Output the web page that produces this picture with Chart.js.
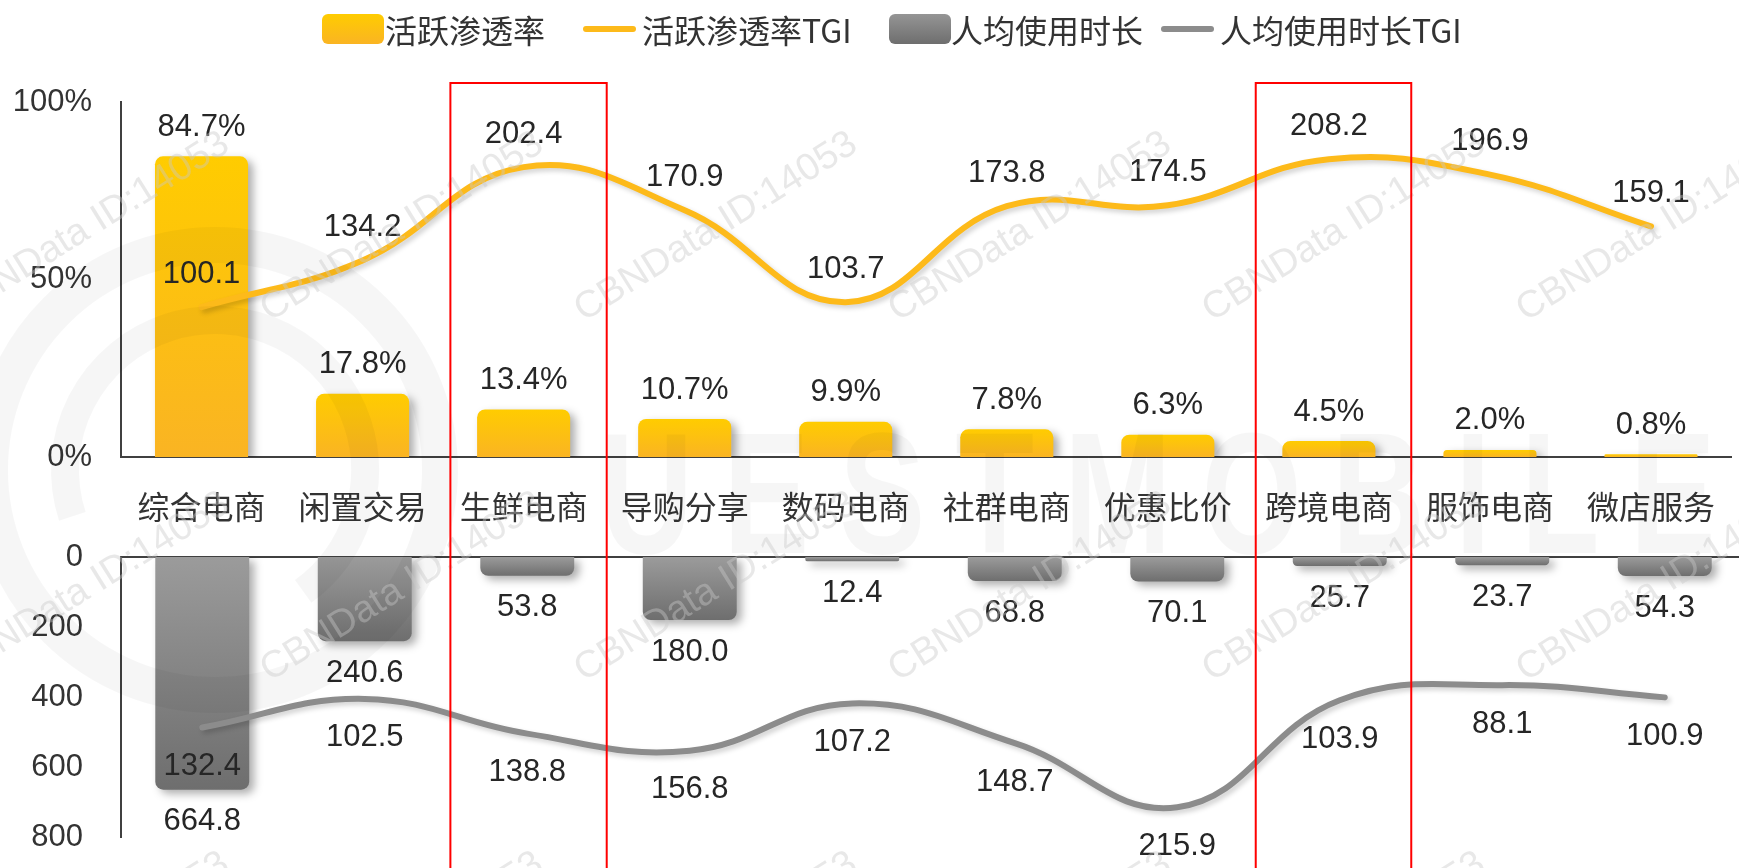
<!DOCTYPE html>
<html>
<head>
<meta charset="utf-8">
<script src="https://cdn.jsdelivr.net/npm/chart.js@4.4.1/dist/chart.umd.min.js"></script>
<style>
html,body{margin:0;padding:0;background:#fff;width:1739px;height:868px;overflow:hidden;}
#wrap{position:relative;width:1739px;height:868px;overflow:hidden;}
canvas{position:absolute;left:0;top:0;}
#legend{position:absolute;left:0;top:0;width:1739px;height:58px;font-family:"Noto Sans CJK SC",sans-serif;font-size:32px;color:#333;}
.item{position:absolute;top:0;height:58px;display:flex;align-items:center;white-space:nowrap;}
.sw-box{width:62px;height:30px;border-radius:6px;}
.sw-line{width:53px;height:6px;border-radius:3px;}
</style>
</head>
<body>
<div id="wrap">
  <canvas id="topChart" width="1746" height="868"></canvas>
  <canvas id="bottomChart" width="1746" height="900"></canvas>
  <div id="legend"></div>
</div>
<script>
const categories = ['综合电商','闲置交易','生鲜电商','导购分享','数码电商','社群电商','优惠比价','跨境电商','服饰电商','微店服务'];
const activeRate = [84.7, 17.8, 13.4, 10.7, 9.9, 7.8, 6.3, 4.5, 2.0, 0.8];
const activeRateTGI = [100.1, 134.2, 202.4, 170.9, 103.7, 173.8, 174.5, 208.2, 196.9, 159.1];
const usageTime = [664.8, 240.6, 53.8, 180.0, 12.4, 68.8, 70.1, 25.7, 23.7, 54.3];
const usageTimeTGI = [132.4, 102.5, 138.8, 156.8, 107.2, 148.7, 215.9, 103.9, 88.1, 100.9];
const seriesNames = ['活跃渗透率','活跃渗透率TGI','人均使用时长','人均使用时长TGI'];
const pctTicks = [0, 50, 100];
const timeTicks = [0, 200, 400, 600, 800];
const highlighted = ['生鲜电商','跨境电商'];

const NUM_FONT = '"Liberation Sans", Arial, sans-serif';
const CJK_FONT = '"Noto Sans CJK SC", sans-serif';
const YELLOW_TOP = '#FFCC00', YELLOW_BASE = '#FAB423', YELLOW_LINE = '#FDBA1A';
const GRAY_END = '#6E6E6E', GRAY_BASE = '#9B9B9B', GRAY_LINE = '#8C8C8C';
const AXIS = '#404040';

// legend (html)
const legendItems = [
  {kind:'box', bg:`linear-gradient(${YELLOW_TOP},${YELLOW_BASE})`, left:322, gap:1},
  {kind:'line', bg:YELLOW_LINE, left:583, gap:6},
  {kind:'box', bg:`linear-gradient(#959595,${GRAY_END})`, left:889, gap:0},
  {kind:'line', bg:GRAY_LINE, left:1161, gap:6}
];
document.getElementById('legend').innerHTML = legendItems.map((it,i)=>`
  <div class="item" style="left:${it.left}px"><span class="sw-${it.kind}" style="background:${it.bg};margin-right:${it.gap}px"></span><span>${seriesNames[i]}</span></div>
`).join('');

function barGradient(ctx, cEnd, cBase){
  const chart = ctx.chart;
  if (!chart.chartArea || ctx.type !== 'data') return cEnd;
  const ys = chart.scales[ctx.dataset.yAxisID];
  const y0 = ys.getPixelForValue(0), y1 = ys.getPixelForValue(ctx.raw);
  const g = chart.ctx.createLinearGradient(0, y1, 0, y0);
  g.addColorStop(0, cEnd);
  g.addColorStop(1, cBase);
  return g;
}

const shadowPlugin = {
  id:'shadow',
  beforeDatasetDraw(chart, args){
    const ds = chart.data.datasets[args.index];
    const c = chart.ctx;
    c.save();
    if (ds.type === 'line') {
      c.shadowColor = 'rgba(0,0,0,0.18)'; c.shadowBlur = 5; c.shadowOffsetX = 3; c.shadowOffsetY = 3;
    } else {
      c.shadowColor = 'rgba(0,0,0,0.32)'; c.shadowBlur = 8; c.shadowOffsetX = 5; c.shadowOffsetY = 4;
    }
  },
  afterDatasetDraw(chart){ chart.ctx.restore(); }
};

const valueLabels = {
  id:'valueLabels',
  afterDatasetsDraw(chart){
    const c = chart.ctx;
    c.save();
    c.font = '31px ' + NUM_FONT;
    c.fillStyle = '#262626';
    c.textAlign = 'center';
    c.textBaseline = 'middle';
    chart.data.datasets.forEach((ds,i)=>{
      chart.getDatasetMeta(i).data.forEach((el,j)=>{
        c.fillText(ds.data[j].toFixed(1) + (ds.unit||''), el.x, el.y + ds.labelDy);
      });
    });
    c.restore();
  }
};

// watermark + red highlight boxes, drawn on the upper canvas
const overlay = {
  id:'overlay',
  afterDraw(chart){
    const c = chart.ctx;
    c.save();
    // faint logo
    c.strokeStyle = 'rgba(0,0,0,0.035)';
    c.lineWidth = 36;
    c.beginPath(); c.arc(215, 470, 225, 0, Math.PI*2); c.stroke();
    c.lineWidth = 28;
    c.beginPath(); c.arc(215, 470, 150, Math.PI*0.9, Math.PI*2.3); c.stroke();
    c.fillStyle = 'rgba(0,0,0,0.035)';
    c.save();
    c.translate(600, 553);
    c.scale(0.75, 1);
    c.font = 'bold 172px ' + NUM_FONT;
    if ('letterSpacing' in c) c.letterSpacing = '40px';
    c.fillText('UESTMOBILE', 0, 0);
    c.restore();
    // CBNData tiles
    c.fillStyle = 'rgba(200,200,200,0.42)';
    c.font = '38px ' + NUM_FONT;
    c.textAlign = 'center';
    c.textBaseline = 'middle';
    for (let r = 0; r < 3; r++) {
      for (let k = 0; k < 6; k++) {
        c.save();
        c.translate(88 + 314*k, 227 + 360*r);
        c.rotate(-32*Math.PI/180);
        c.fillText('CBNData ID:14053', 0, 0);
        c.restore();
      }
    }
    // red boxes
    const x = chart.scales.x;
    const w = x.getPixelForValue(1) - x.getPixelForValue(0);
    const offs = {'生鲜电商':[-0.473, 0.489], '跨境电商':[-0.517, 0.44]};
    c.strokeStyle = '#FF0000';
    c.lineWidth = 2;
    highlighted.forEach(name=>{
      const cx = x.getPixelForValue(categories.indexOf(name));
      const o = offs[name];
      c.strokeRect(cx + o[0]*w, 83, (o[1]-o[0])*w, 840);
    });
    c.restore();
  }
};

const tickFont = {size:31, family:NUM_FONT};
const noGrid = {display:false, drawTicks:false};

new Chart(document.getElementById('topChart'), {
  data:{
    labels:categories,
    datasets:[
      {type:'line', label:seriesNames[1], data:activeRateTGI, yAxisID:'yTgi', borderColor:YELLOW_LINE, borderWidth:6,
       tension:0.42, pointRadius:0, borderCapStyle:'round', order:0, labelDy:-33},
      {type:'bar', label:seriesNames[0], data:activeRate, yAxisID:'y',
       backgroundColor:ctx=>barGradient(ctx, YELLOW_TOP, YELLOW_BASE), borderRadius:8,
       barPercentage:0.578, categoryPercentage:1, order:1, labelDy:-29, unit:'%'}
    ]
  },
  options:{
    responsive:false, animation:false,
    layout:{padding:{top:102, bottom:311, left:0, right:0}},
    plugins:{legend:{display:false}, tooltip:{enabled:false}},
    scales:{
      x:{grid:noGrid, border:{display:true, color:AXIS, width:2},
         ticks:{color:'#333', font:{size:32, family:CJK_FONT}, padding:31, maxRotation:0, autoSkip:false},
         afterFit:s=>{ s.height = 100; }},
      y:{min:0, max:100, grid:noGrid, border:{display:true, color:AXIS, width:2},
         ticks:{color:'#333', font:tickFont, padding:29, callback:v=>v+'%'},
         afterBuildTicks:s=>{ s.ticks = pctTicks.map(v=>({value:v})); },
         afterFit:s=>{ s.width = 121; }},
      yTgi:{display:false, min:-9.5, max:250}
    }
  },
  plugins:[shadowPlugin, valueLabels]
});

new Chart(document.getElementById('bottomChart'), {
  data:{
    labels:categories,
    datasets:[
      {type:'line', label:seriesNames[3], data:usageTimeTGI, yAxisID:'yTgi', borderColor:GRAY_LINE, borderWidth:6,
       tension:0.42, pointRadius:0, borderCapStyle:'round', order:0, labelDy:39},
      {type:'bar', label:seriesNames[2], data:usageTime, yAxisID:'y',
       backgroundColor:ctx=>barGradient(ctx, GRAY_END, GRAY_BASE), borderRadius:8,
       barPercentage:0.578, categoryPercentage:1, order:1, labelDy:32}
    ]
  },
  options:{
    responsive:false, animation:false,
    layout:{padding:{top:557, bottom:63, left:0, right:0}},
    plugins:{legend:{display:false}, tooltip:{enabled:false}},
    scales:{
      x:{position:'top', grid:noGrid, border:{display:true, color:AXIS, width:2},
         ticks:{display:false}, afterFit:s=>{ s.height = 0; }},
      y:{reverse:true, min:0, max:800, grid:noGrid, border:{display:true, color:AXIS, width:2},
         ticks:{color:'#333', font:tickFont, padding:38},
         afterBuildTicks:s=>{ s.ticks = timeTicks.map(v=>({value:v})); },
         afterFit:s=>{ s.width = 121; }},
      yTgi:{display:false, reverse:true, min:-46, max:247}
    }
  },
  plugins:[shadowPlugin, valueLabels, overlay]
});
</script>
</body>
</html>
